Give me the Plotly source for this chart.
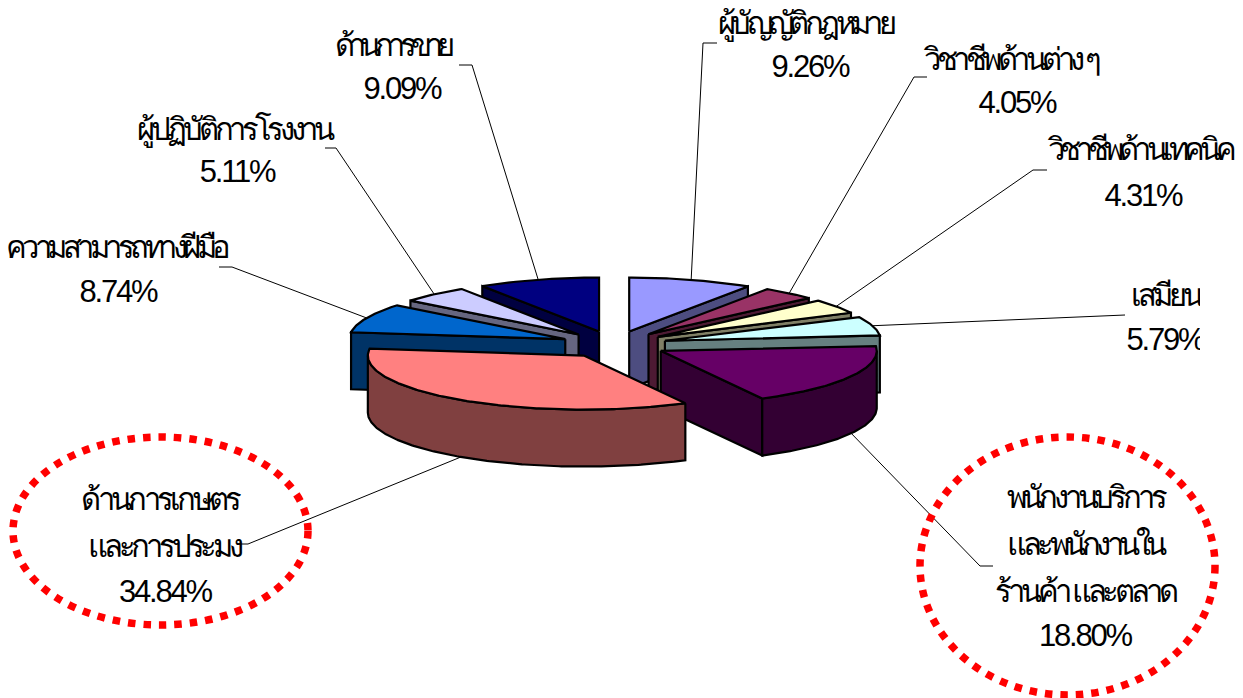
import math
import plotly.graph_objects as go

# Occupation shares, clockwise from twelve o'clock
categories = [
    ["ผู้บัญญัติกฎหมาย"],
    ["วิชาชีพด้านต่าง ๆ"],
    ["วิชาชีพด้านเทคนิค"],
    ["เสมียน"],
    ["พนักงานบริการ", "และพนักงานใน", "ร้านค้า และตลาด"],
    ["ด้านการเกษตร", "และการประมง"],
    ["ความสามารถทางฝีมือ"],
    ["ผู้ปฏิบัติการโรงงาน"],
    ["ด้านการขาย"],
]
shares = [9.26, 4.05, 4.31, 5.79, 18.80, 34.84, 8.74, 5.11, 9.09]
top_colors = ["#9999FF", "#993366", "#FFFFCC", "#CCFFFF", "#660066",
              "#FF8080", "#0066CC", "#CCCCFF", "#000080"]
wall_colors = ["#4D4D80", "#4D1A33", "#808066", "#668080", "#330033",
               "#804040", "#003366", "#666680", "#000040"]

# Text line centres for each category, then the percentage line
label_lines = [
    [(805, 26), (810, 69)],
    [(1011, 62), (1017, 105)],
    [(1140, 152), (1143, 198)],
    [(1165, 298), (1165, 342)],
    [(1085, 500), (1085, 547), (1085, 594), (1085, 638)],
    [(160, 502), (164, 549), (165, 594)],
    [(116, 250), (118, 294)],
    [(234, 132), (237, 174)],
    [(392, 48), (402, 91)],
]
# Tracking of the Thai lines, in px
thai_tracking = [
    [-4.6],
    [-4.5],
    [-4.9],
    [-4.0],
    [-4.2, -4.5, -4.2],
    [-3.7, -4.2],
    [-4.5],
    [-4.3],
    [-5.9],
]
# Leader line elbow and end
leader_ends = [
    [(703, 43), (717, 43)],
    [(914, 77), (927, 77)],
    [(1033, 170), (1047, 170)],
    [(1125, 315)],
    [(980, 566), (993, 566)],
    [(248, 544), (237, 544)],
    [(232, 267), (219, 267)],
    [(336, 148), (325, 148)],
    [(472, 65), (459, 65)],
]

CX, CY = 614, 344.5    # pie centre
RX, RY = 216, 54       # top-face ellipse
EX, EY = 53, 13.5      # explosion offset
DEPTH = 57             # thickness of the slices
PAINT_ORDER = [8, 0, 7, 1, 2, 6, 3, 4, 5]
NUMBER_TRACKING = -2.2
FONT = "Liberation Sans, Noto Sans, sans-serif"

total = sum(shares)
starts, ends = [], []
acc = 0.0
for s in shares:
    starts.append(acc / total * 360)
    acc += s
    ends.append(acc / total * 360)


def apex(i):
    mid = math.radians((starts[i] + ends[i]) / 2)
    return CX + EX * math.sin(mid), CY - EY * math.cos(mid)


def rim(i, deg):
    ax, ay = apex(i)
    t = math.radians(deg)
    return ax + RX * math.sin(t), ay - RY * math.cos(t)


def arc(i, a, b):
    n = max(2, int(abs(b - a) * 1.5))
    return [rim(i, a + (b - a) * k / n) for k in range(n + 1)]


def polygon(points, color):
    xs = [p[0] for p in points] + [points[0][0]]
    ys = [p[1] for p in points] + [points[0][1]]
    return go.Scatter(x=xs, y=ys, mode="lines", fill="toself", fillcolor=color,
                      line=dict(color="#000000", width=2.2, shape="linear"),
                      hoverinfo="skip", showlegend=False)


def drop(points):
    return [(x, y + DEPTH) for x, y in points]


fig = go.Figure()

# Leader lines sit beneath the pie
for i, tail in enumerate(leader_ends):
    mid = (starts[i] + ends[i]) / 2
    sx, sy = rim(i, mid)
    if math.cos(math.radians(mid)) < 0:
        sy += DEPTH
    path = [(sx, sy)] + tail
    fig.add_trace(go.Scatter(x=[p[0] for p in path], y=[p[1] for p in path],
                             mode="lines", line=dict(color="#000000", width=1),
                             hoverinfo="skip", showlegend=False))

# Slices, painted back to front
for i in PAINT_ORDER:
    a, b = starts[i], ends[i]
    centre = apex(i)
    # Radial walls that face the viewer
    for edge, normal in ((a, a - 90), (b, b + 90)):
        if math.cos(math.radians(normal)) < -1e-6:
            top_edge = [centre, rim(i, edge)]
            fig.add_trace(polygon(top_edge + drop(top_edge)[::-1], wall_colors[i]))
    # Curved outer wall over the front half
    lo, hi = max(a, 90), min(b, 270)
    if hi > lo:
        curve = arc(i, lo, hi)
        fig.add_trace(polygon(curve + drop(curve)[::-1], wall_colors[i]))
    # Top face
    fig.add_trace(polygon([centre] + arc(i, a, b), top_colors[i]))


def spaced(text, px):
    return f'<span style="letter-spacing:{px}px">{text}</span>'


# Category names and percentages
for i, lines in enumerate(categories):
    texts = [spaced(t, px) for t, px in zip(lines, thai_tracking[i])]
    texts.append(spaced(f"{shares[i]:.2f}%", NUMBER_TRACKING))
    pos = label_lines[i]
    fig.add_trace(go.Scatter(
        x=[p[0] for p in pos], y=[p[1] for p in pos],
        mode="text", text=texts,
        textposition="middle center",
        textfont=dict(family=FONT, size=31, color="#000000"),
        hoverinfo="skip", showlegend=False))

dotted = dict(color="#FF0000", width=7.5, dash="7.5px,8px")
fig.update_layout(
    width=1243, height=698,
    margin=dict(l=0, r=0, t=0, b=0),
    paper_bgcolor="#FFFFFF", plot_bgcolor="#FFFFFF",
    xaxis=dict(range=[0, 1243], visible=False, fixedrange=True),
    yaxis=dict(range=[698, 0], visible=False, fixedrange=True),
    shapes=[
        # Highlight rings round the two largest groups
        dict(type="circle", x0=13, x1=308, y0=437, y1=625, line=dotted, layer="above"),
        dict(type="circle", x0=920, x1=1215, y0=437, y1=695, line=dotted, layer="above"),
        # The clerk label is cut off at the edge of the chart area
        dict(type="rect", x0=1200, x1=1243, y0=275, y1=365,
             fillcolor="#FFFFFF", line=dict(width=0), layer="above"),
    ],
)

fig.write_html("out.html")
